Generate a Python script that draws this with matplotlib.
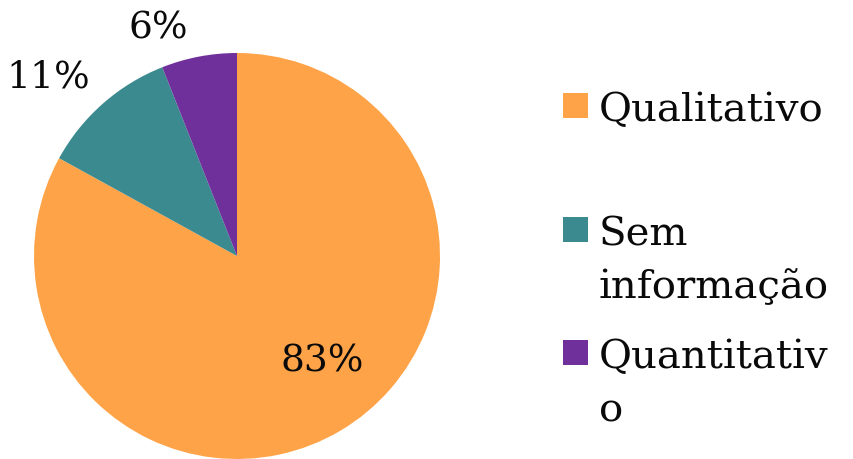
import matplotlib
matplotlib.use("Agg")
import matplotlib.pyplot as plt
from matplotlib.patches import Rectangle

categories = ["Qualitativo", "Sem\ninformação", "Quantitativ\no"]
values = [83, 11, 6]
colors = ["#FFA348", "#3A8A8F", "#70309C"]
pct_labels = ["83%", "11%", "6%"]
label_pos = [(0.419, -0.522), (-0.931, 0.877), (-0.389, 1.123)]

W, H = 854, 459
fig = plt.figure(figsize=(W / 100, H / 100), dpi=100)
font = "DejaVu Serif"

cx, cy, R = 237, 256, 203
ax = fig.add_axes([(cx - R) / W, (H - cy - R) / H, 2 * R / W, 2 * R / H])
ax.pie(values, colors=colors, startangle=90, counterclock=False, radius=1,
       wedgeprops=dict(linewidth=0))
ax.set_xlim(-1, 1)
ax.set_ylim(-1, 1)
ax.set_aspect("equal")
ax.axis("off")

for txt, (x, y) in zip(pct_labels, label_pos):
    ax.text(x, y, txt, ha="center", va="center", fontsize=27, family=font,
            color="#0a0a0a", clip_on=False)

# legend drawn manually
baselines = [121, 245, 368]
line_step = 53
sq = 25
for lab, col, b in zip(categories, colors, baselines):
    fig.patches.append(Rectangle((563 / W, (H - b + 3) / H), sq / W, sq / H,
                                 transform=fig.transFigure, facecolor=col,
                                 edgecolor="none"))
    for i, line in enumerate(lab.split("\n")):
        fig.text(599 / W, (H - b - i * line_step) / H, line, ha="left",
                 va="baseline", fontsize=29, family=font, color="#0a0a0a")

fig.savefig("out.png", dpi=100)
